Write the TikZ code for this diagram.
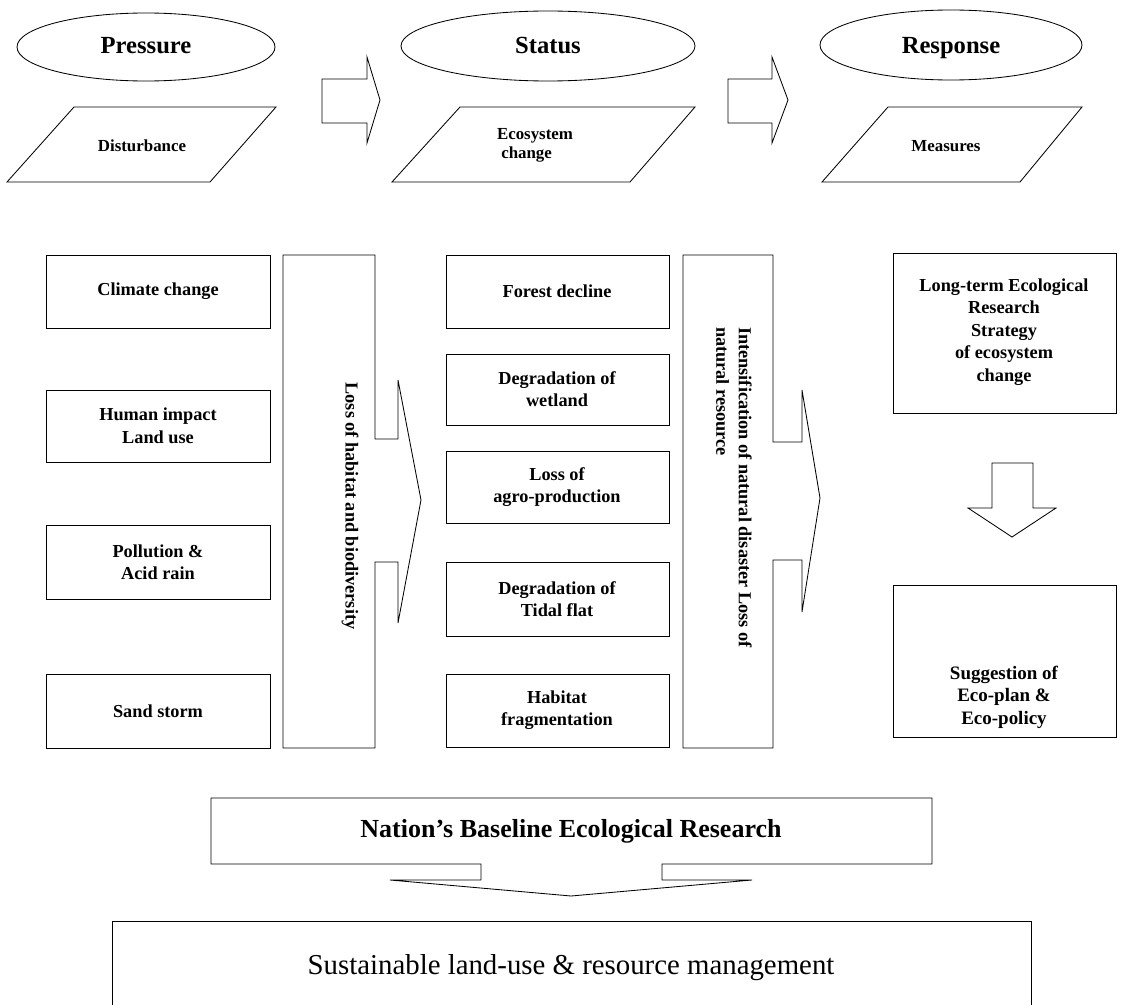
\documentclass[tikz,border=0pt]{standalone}
\usepackage{fontspec}
\setmainfont{Liberation Serif}
\begin{document}
\begin{tikzpicture}[x=0.025cm,y=-0.025cm,line width=0.6pt,
    headtext/.style={font=\bfseries\fontsize{17.5}{20}\selectfont,text height=1.4ex,text depth=0.4ex},
    paratext/.style={font=\bfseries\fontsize{12}{13.5}\selectfont,align=left},
    boxtext/.style={font=\bfseries\fontsize{13}{16}\selectfont,align=center},
    sidetext/.style={font=\bfseries\fontsize{13}{16}\selectfont,rotate=-90,align=left}]
    \useasboundingbox (0,0) rectangle (1127,1005);
    % P - S - R heads
    \draw (146,47) ellipse (129 and 34);
    \node[headtext] (press) at (146,50) {Pressure};
    \draw (548,46) ellipse (147 and 35);
    \node[headtext] (stat) at (548,50) {Status};
    \draw (951,45) ellipse (131 and 35);
    \node[headtext] (resp) at (951,50) {Response};
    \draw (74,107) -- (276,107) -- (210,182) -- (7,182) -- cycle;
    \node[paratext] (dist) at (142,146) {Disturbance};
    \draw (460,107) -- (695,107) -- (630,182) -- (392,182) -- cycle;
    \node[paratext] (ecochg) at (535,145) {Ecosystem\\ \ change};
    \draw (888,107) -- (1082,107) -- (1020,182) -- (822,182) -- cycle;
    \node[paratext] (meas) at (946,146) {Measures};
    \draw (322,79) -- (367,79) -- (367,57) -- (380,100) -- (367,143) -- (367,123) -- (322,123) -- cycle;
    \draw (728,79) -- (772,79) -- (772,57) -- (788,100) -- (772,143) -- (772,123) -- (728,123) -- cycle;
    % pressure column
    \draw (46,255) rectangle (270,328);
    \node[boxtext] (clim) at (158,291) {Climate change};
    \draw (46,390) rectangle (270,462);
    \node[boxtext] (human) at (158,426) {Human impact\\Land use};
    \draw (46,525) rectangle (270,599);
    \node[boxtext] (pollu) at (158,562) {Pollution \&\\Acid rain};
    \draw (46,674) rectangle (270,748);
    \node[boxtext] (sand) at (158,711) {Sand storm};
    \draw (283,255) -- (375,255) -- (375,439) -- (398,439) -- (398,380) -- (421,500)
      -- (398,623) -- (398,562) -- (375,562) -- (375,748) -- (283,748) -- cycle;
    \node[sidetext] (habloss) at (350,506) {Loss of habitat and biodiversity};
    % status column
    \draw (446,255) rectangle (669,328);
    \node[boxtext] (forest) at (557,291) {Forest decline};
    \draw (446,354) rectangle (669,425);
    \node[boxtext] (wetl) at (557,389) {Degradation of\\wetland};
    \draw (446,451) rectangle (669,523);
    \node[boxtext] (agro) at (557,487) {Loss of\\agro-production};
    \draw (446,562) rectangle (669,636);
    \node[boxtext] (tidal) at (557,599) {Degradation of\\Tidal flat};
    \draw (446,674) rectangle (669,747);
    \node[boxtext] (frag) at (557,710) {Habitat\\fragmentation};
    \draw (683,255) -- (773,255) -- (773,442) -- (802,442) -- (802,390) -- (820,498)
      -- (802,612) -- (802,560) -- (773,560) -- (773,748) -- (683,748) -- cycle;
    \node[sidetext,anchor=west] (intens) at (734,322) {Intensification of natural disaster Loss of\\natural resource};
    % response column
    \draw (893,253) rectangle (1116,413);
    \node[boxtext] (lter) at (1004,332) {Long-term Ecological\\Research\\Strategy\\of ecosystem\\change};
    \draw (992,463) -- (1033,463) -- (1033,508) -- (1056,508) -- (1012,537) -- (968,508) -- (992,508) -- cycle;
    \draw (893,585) rectangle (1116,737);
    \node[boxtext,font=\bfseries\fontsize{13.5}{16}\selectfont] (ecopol) at (1004,697) {Suggestion of\\Eco-plan \&\\Eco-policy};
    % baseline research and management
    \draw (211,798) -- (932,798) -- (932,864) -- (662,864) -- (662,880) -- (752,880) -- (571,896)
      -- (390,880) -- (481,880) -- (481,864) -- (211,864) -- cycle;
    \node[font=\bfseries\fontsize{18.5}{22}\selectfont] (nation) at (571,831) {Nation’s Baseline Ecological Research};
    \draw (112,1015) rectangle (1031,921);
    \node[font=\fontsize{20.5}{24}\selectfont] (sustain) at (571,968) {Sustainable land-use \& resource management};
\end{tikzpicture}
\end{document}
